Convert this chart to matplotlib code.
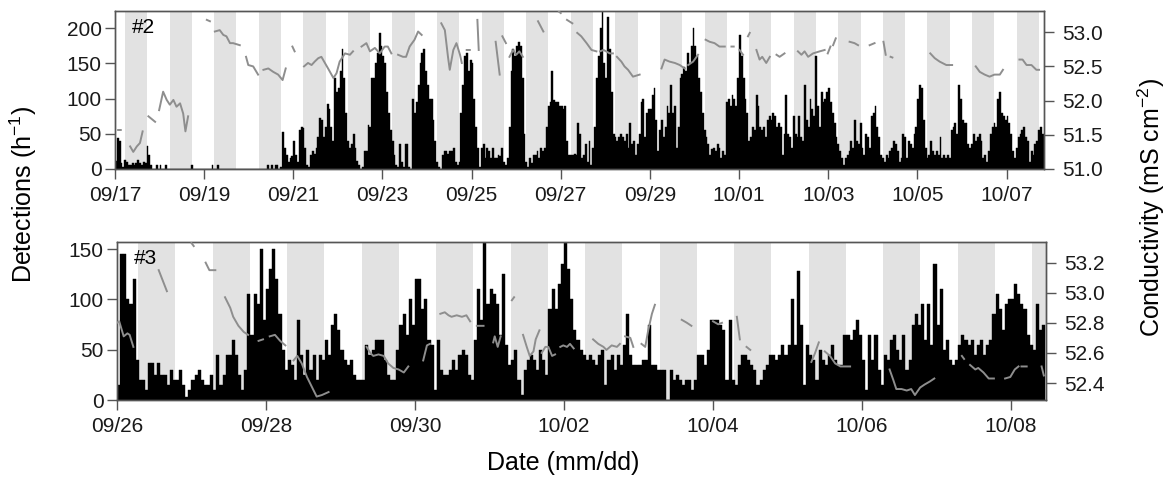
import matplotlib
matplotlib.use('Agg')
import matplotlib.pyplot as plt
import numpy as np

plt.rcParams['font.family'] = ['Liberation Sans', 'DejaVu Sans']
plt.rcParams['mathtext.fontset'] = 'custom'
plt.rcParams['mathtext.rm'] = 'Liberation Sans'
plt.rcParams['mathtext.default'] = 'regular'

nan = np.nan

# hourly detections, site #2, starting 09/17 00:00 (one row per day)
det2 = [
    12, 44, 40, 8, 3, 13, 10, 6, 6, 8, 5, 8, 13, 8, 6, 10, 8, 32, 20, 5, 0, 0, 5, 0,
    6, 0, 0, 6, 0, 0, 0, 0, 0, 0, 0, 0, 0, 0, 0, 0, 0, 5, 0, 0, 0, 0, 0, 0,
    0, 0, 0, 0, 6, 0, 0, 6, 0, 0, 0, 0, 0, 0, 0, 0, 0, 0, 0, 0, 0, 0, 0, 0,
    0, 0, 0, 0, 0, 0, 0, 0, 0, 0, 5, 0, 5, 0, 6, 6, 0, 3, 52, 30, 20, 10, 15, 18,
    40, 20, 10, 55, 60, 58, 30, 5, 3, 20, 25, 22, 30, 45, 72, 70, 45, 60, 92, 85, 60, 40, 130, 110,
    115, 140, 170, 130, 80, 40, 30, 35, 50, 30, 12, 5, 0, 3, 25, 25, 62, 60, 130, 130, 150, 165, 193, 175,
    160, 150, 110, 80, 55, 40, 20, 5, 3, 35, 10, 3, 35, 35, 3, 0, 100, 80, 95, 120, 150, 165, 170, 140,
    120, 100, 100, 70, 40, 10, 3, 0, 20, 25, 25, 22, 25, 25, 30, 10, 5, 10, 80, 120, 160, 165, 140, 155,
    150, 100, 60, 30, 3, 30, 35, 15, 30, 25, 15, 30, 15, 15, 20, 18, 30, 10, 5, 15, 60, 140, 170, 160,
    175, 180, 175, 130, 50, 10, 3, 15, 8, 20, 20, 25, 15, 30, 25, 30, 60, 90, 95, 140, 98, 95, 95, 90,
    90, 85, 90, 40, 20, 20, 20, 22, 20, 65, 50, 15, 20, 35, 10, 40, 5, 30, 60, 130, 160, 200, 225, 150,
    130, 216, 170, 110, 50, 45, 40, 45, 50, 45, 40, 50, 30, 65, 35, 40, 20, 35, 50, 95, 100, 45, 80, 85,
    85, 105, 115, 70, 25, 55, 70, 45, 60, 90, 80, 120, 80, 90, 30, 60, 130, 135, 145, 140, 165, 150, 175, 200,
    175, 160, 130, 110, 80, 55, 45, 35, 20, 28, 30, 25, 35, 30, 15, 25, 20, 95, 100, 90, 105, 100, 90, 130,
    190, 160, 130, 100, 80, 40, 45, 60, 55, 105, 90, 60, 55, 60, 45, 70, 75, 70, 80, 75, 60, 65, 60, 20,
    50, 105, 50, 45, 30, 75, 50, 45, 75, 45, 40, 120, 70, 60, 100, 85, 75, 160, 90, 60, 110, 95, 100, 110,
    115, 95, 80, 65, 45, 35, 25, 15, 5, 15, 20, 25, 40, 30, 70, 40, 35, 65, 30, 20, 50, 45, 30, 75,
    80, 90, 60, 45, 20, 15, 10, 20, 15, 25, 30, 40, 35, 25, 10, 15, 50, 45, 15, 40, 35, 30, 50, 60,
    100, 120, 115, 70, 30, 15, 20, 40, 25, 20, 25, 20, 45, 15, 20, 15, 20, 15, 55, 60, 65, 50, 120, 100,
    70, 65, 65, 35, 30, 35, 50, 40, 45, 50, 40, 15, 20, 10, 25, 50, 60, 65, 60, 100, 110, 80, 75, 70,
    75, 65, 50, 25, 15, 30, 45, 50, 55, 60, 45, 40, 10, 25, 20, 35, 40, 55, 60, 50,
]

# hourly detections, site #3, starting 09/26 00:00
det3 = [
    15, 145, 145, 100, 95, 120, 40, 20, 20, 10, 37, 37, 25, 37, 25, 25, 15, 30, 20, 20, 30, 15, 3, 10,
    20, 25, 30, 20, 15, 15, 25, 10, 45, 15, 25, 45, 45, 60, 45, 25, 10, 30, 105, 65, 105, 95, 150, 80,
    110, 130, 150, 120, 85, 50, 30, 40, 35, 20, 80, 45, 25, 50, 30, 45, 20, 45, 40, 60, 45, 75, 85, 70,
    50, 40, 35, 40, 25, 20, 20, 20, 55, 45, 50, 60, 60, 60, 40, 25, 20, 20, 50, 75, 85, 65, 100, 75,
    120, 120, 90, 100, 60, 55, 10, 60, 30, 25, 25, 30, 40, 30, 45, 50, 45, 25, 20, 60, 110, 80, 157, 95,
    110, 105, 95, 65, 125, 55, 35, 40, 50, 20, 5, 30, 40, 45, 40, 30, 50, 40, 25, 90, 110, 90, 115, 135,
    157, 130, 100, 70, 60, 50, 45, 40, 45, 40, 35, 45, 50, 15, 40, 45, 30, 45, 35, 55, 85, 45, 35, 35,
    35, 40, 40, 75, 35, 35, 30, 30, 30, 0, 30, 20, 25, 20, 15, 20, 20, 10, 20, 45, 45, 35, 50, 80,
    80, 80, 75, 70, 20, 80, 20, 15, 35, 45, 45, 40, 35, 30, 15, 20, 30, 35, 45, 45, 40, 45, 55, 45,
    55, 100, 55, 128, 75, 15, 55, 45, 40, 20, 50, 40, 35, 45, 55, 40, 35, 35, 65, 65, 60, 70, 80, 65,
    40, 10, 65, 40, 65, 30, 15, 45, 40, 60, 65, 50, 40, 65, 30, 40, 75, 85, 75, 95, 60, 95, 55, 135,
    75, 110, 50, 60, 40, 35, 40, 55, 65, 60, 55, 60, 45, 55, 60, 45, 55, 60, 85, 105, 90, 70, 95, 100,
    100, 115, 105, 95, 90, 65, 55, 50, 95, 70, 75,
]

# conductivity, site #2 (days since 09/17, mS cm-2); nan = gap in record
cond2_t = [0.07, 0.13, nan, 0.34, 0.41, 0.49, 0.56, 0.62, nan, 0.75, 0.90, nan,
           0.99, 1.08, 1.16, 1.23, 1.31, 1.38, 1.46, 1.53, 1.58, 1.64, nan,
           2.06, 2.13, nan, 2.24, 2.35, 2.43, 2.50, 2.58, 2.65, 2.80, nan,
           2.94, 2.99, 3.10, 3.21, nan, 3.33, 3.44, 3.55, 3.66, 3.76, 3.83, nan,
           3.98, 4.03, nan,
           4.24, 4.33, 4.41, 4.48, 4.56, 4.63, 4.71, 4.78, 4.90, 4.97, 5.04, 5.16, 5.27, 5.34, nan,
           5.53, 5.64, 5.72, 5.83, 5.94, 6.05, 6.12, 6.20, nan,
           6.35, 6.46, 6.53, 6.61, 6.72, 6.80, 6.88, nan,
           7.32, 7.40, 7.47, 7.51, 7.59, 7.66, 7.74, 7.78, nan, 7.89, 7.96, nan,
           8.13, 8.16, nan, 8.54, 8.63, nan, 8.69, 8.77, nan,
           8.85, 8.93, 9.00, 9.07, 9.15, nan, 9.49, 9.61, nan, 9.96, 10.00, nan,
           10.14, 10.26, nan, 10.37, 10.46, 10.58, 10.69, 10.80, nan,
           10.88, 10.96, 11.10, 11.17, nan, 11.26, 11.36, 11.43, 11.51, 11.62, 11.77, nan,
           12.26, 12.33, 12.44, 12.56, 12.67, 12.78, nan, 12.86, 12.97, 13.08, nan,
           13.25, 13.34, 13.45, 13.56, 13.68, nan, 13.83, 13.88, nan, 14.01, 14.09, nan,
           14.20, 14.24, nan, 14.39, 14.46, 14.52, 14.61, 14.69, nan, 14.84, 14.91, 15.02, nan,
           15.32, 15.40, 15.47, 15.55, 15.66, 15.81, 15.92, nan, 15.99, 16.05, nan,
           16.11, 16.17, nan, 16.48, 16.59, 16.67, nan, 16.93, 17.04, nan,
           17.24, 17.29, nan, 17.40, 17.44, nan,
           18.29, 18.39, 18.50, 18.65, 18.78, nan,
           19.31, 19.40, 19.51, 19.62, 19.73, 19.85, 19.92, nan,
           20.29, 20.36, 20.45, 20.56, 20.67, 20.73]
cond2_v = [51.57, 51.57, nan, 51.33, 51.25, 51.33, 51.38, 51.55, nan, 51.77, 51.69, nan,
           51.86, 52.13, 52.01, 51.94, 52.01, 51.91, 51.96, 51.81, 51.55, 51.77, nan,
           53.18, 53.16, nan, 53.01, 53.03, 52.96, 52.94, 52.84, 52.84, 52.81, nan,
           52.64, 52.52, 52.50, 52.38, nan, 52.45, 52.47, 52.42, 52.38, 52.30, 52.47, nan,
           52.79, 52.72, nan,
           52.50, 52.55, 52.52, 52.57, 52.62, 52.64, 52.55, 52.47, 52.33, 52.40, 52.57, 52.69, 52.67, 52.72, nan,
           52.79, 52.84, 52.72, 52.77, 52.69, 52.79, 52.79, 52.69, nan,
           52.67, 52.64, 52.64, 52.79, 52.89, 53.01, 52.96, nan,
           53.13, 53.03, 52.64, 52.45, 52.74, 52.84, 52.67, 52.55, nan, 52.74, 52.74, nan,
           53.18, 52.74, nan, 52.86, 52.38, nan, 52.94, 52.84, nan,
           52.64, 52.74, 52.67, 52.72, 52.64, nan, 53.16, 53.01, nan, 53.30, 53.28, nan,
           53.18, 53.13, nan, 52.99, 52.94, 52.84, 52.74, 52.72, nan,
           52.72, 52.74, 52.69, 52.69, nan, 52.64, 52.57, 52.50, 52.45, 52.35, 52.38, nan,
           52.47, 52.60, 52.57, 52.55, 52.52, 52.47, nan, 52.52, 52.57, 52.67, nan,
           52.89, 52.86, 52.84, 52.79, 52.79, nan, 52.79, 52.79, nan, 52.74, 52.67, nan,
           52.94, 52.99, nan, 52.74, 52.60, 52.64, 52.55, 52.64, nan, 52.67, 52.64, 52.69, nan,
           52.72, 52.67, 52.72, 52.64, 52.69, 52.72, 52.74, nan, 52.69, 52.79, nan,
           52.81, 52.91, nan, 52.86, 52.84, 52.81, nan, 52.81, 52.84, nan,
           52.86, 52.67, nan, 52.64, 52.63, nan,
           52.69, 52.62, 52.57, 52.52, 52.52, nan,
           52.50, 52.42, 52.38, 52.35, 52.38, 52.38, 52.45, nan,
           52.60, 52.60, 52.52, 52.52, 52.45, 52.45]

# conductivity, site #3 (days since 09/26)
cond3_t = [0.00, 0.03, 0.06, 0.09, 0.14, 0.17, 0.22, nan, 0.56, 0.67, nan, 1.00, 1.03, nan,
           1.19, 1.24, 1.32, nan, 1.45, 1.52, 1.56, 1.63, 1.70, 1.76, nan, 1.90, 1.96, nan,
           2.05, 2.12, 2.19, 2.26, nan, 2.37, 2.42, 2.48, 2.55, 2.61, 2.68, 2.75, 2.84, nan,
           3.35, 3.40, 3.44, 3.51, 3.58, 3.64, 3.71, 3.78, 3.85, 3.91, nan,
           4.11, 4.16, 4.20, nan, 4.34, 4.40, 4.45, 4.49, 4.56, 4.63, 4.69, 4.74, nan,
           4.83, 4.92, nan, 5.05, 5.07, 5.11, 5.15, nan, 5.30, 5.33, nan,
           5.45, 5.50, 5.54, 5.59, 5.62, 5.67, nan, 5.70, 5.75, 5.79, 5.84, 5.88, nan,
           5.95, 5.99, 6.04, 6.08, 6.13, nan, 6.39, 6.46, 6.53, 6.57, 6.64, 6.71, 6.75, nan,
           6.82, 6.89, 6.93, nan, 7.04, 7.09, 7.13, 7.18, 7.22, nan, 7.58, 7.65, 7.71, nan,
           8.00, 8.07, 8.12, nan, 8.32, 8.36, nan, 8.45, 8.50, nan,
           9.32, 9.37, 9.42, nan, 9.50, 9.57, 9.64, 9.71, 9.78, 9.84, nan,
           10.37, 10.42, 10.46, 10.53, 10.60, 10.66, 10.71, 10.78, 10.84, 10.91, 10.97, nan,
           11.34, 11.37, nan, 11.45, 11.52, 11.56, 11.63, 11.70, 11.77, nan,
           11.92, 11.99, 12.05, 12.10, nan, 12.14, 12.21, nan, 12.41, 12.44]
cond3_v = [52.80, 52.81, 52.76, 52.71, 52.73, 52.72, 52.64, nan, 53.15, 53.01, nan, 53.33, 53.31, nan,
           53.20, 53.15, 53.15, nan, 52.97, 52.90, 52.84, 52.78, 52.74, 52.72, nan, 52.68, 52.69, nan,
           52.71, 52.72, 52.68, 52.65, nan, 52.55, 52.58, 52.53, 52.44, 52.38, 52.31, 52.32, 52.34, nan,
           52.64, 52.60, 52.58, 52.59, 52.58, 52.53, 52.50, 52.49, 52.47, 52.51, nan,
           52.55, 52.65, 52.66, nan, 52.86, 52.87, 52.85, 52.84, 52.85, 52.84, 52.85, 52.81, nan,
           52.78, 52.78, nan, 52.67, 52.71, 52.64, 52.71, nan, 52.95, 52.97, nan,
           52.72, 52.64, 52.58, 52.61, 52.69, 52.75, nan, 52.60, 52.64, 52.64, 52.58, 52.59, nan,
           52.64, 52.65, 52.64, 52.66, 52.63, nan, 52.69, 52.66, 52.64, 52.62, 52.65, 52.64, 52.66, nan,
           52.71, 52.70, 52.64, nan, 52.66, 52.64, 52.75, 52.86, 52.92, nan, 52.82, 52.80, 52.78, nan,
           52.81, 52.79, 52.80, nan, 52.84, 52.69, nan, 52.64, 52.62, nan,
           52.54, 52.60, 52.67, nan, 52.61, 52.58, 52.53, 52.51, 52.51, 52.51, nan,
           52.49, 52.42, 52.36, 52.36, 52.35, 52.36, 52.32, 52.37, 52.39, 52.41, 52.43, nan,
           52.58, 52.56, nan, 52.52, 52.49, 52.50, 52.47, 52.43, 52.43, nan,
           52.43, 52.44, 52.49, 52.51, nan, 52.51, 52.51, nan, 52.51, 52.45]

ticks2 = ['09/17', '09/19', '09/21', '09/23', '09/25', '09/27', '09/29',
          '10/01', '10/03', '10/05', '10/07']
ticks3 = ['09/26', '09/28', '09/30', '10/02', '10/04', '10/06', '10/08']

# shaded part of each day (hours)
shade2 = (5.4, 17.4)
shade3 = (6.9, 18.8)

fig = plt.figure(figsize=(11.71, 4.82), dpi=100)
frame = '#555555'


def panel(rect, det, ct, cv, shade, ticks, xmax, ylim, yticks, clim, cticks, tag):
    ax = fig.add_axes(rect)
    ndays = int(np.ceil(xmax))
    for d in range(ndays):
        ax.axvspan(d + shade[0] / 24, d + shade[1] / 24, color='#e2e2e2', lw=0, zorder=0)
    t = np.arange(len(det)) / 24.0
    ax.bar(t, det, width=1 / 24, align='edge', color='black', edgecolor='black',
           linewidth=0.3, zorder=2)
    ax.set_xlim(0, xmax)
    ax.set_ylim(*ylim)
    ax.set_yticks(yticks)
    ax.set_xticks(np.arange(len(ticks)) * 2)
    ax.set_xticklabels(ticks)
    ax.text(0.018, 0.86, tag, transform=ax.transAxes, fontsize=15, zorder=5)

    ax2 = ax.twinx()
    ax2.plot(ct, cv, color='#8e8e8e', lw=1.4, zorder=3)
    ax2.set_ylim(*clim)
    ax2.set_yticks(cticks)
    ax2.set_yticklabels(['%.1f' % c for c in cticks])

    for a in (ax, ax2):
        for s in a.spines.values():
            s.set_color(frame)
            s.set_linewidth(1.0)
        a.tick_params(direction='out', length=7, width=1, color=frame,
                      labelsize=15, labelcolor='#1a1a1a')
    ax.tick_params(axis='x', pad=5)
    ax.tick_params(axis='y', pad=2.5)
    ax2.tick_params(axis='y', pad=6)
    return ax, ax2


panel([0.0982, 0.6494, 0.7933, 0.3278], det2, cond2_t, cond2_v, shade2, ticks2,
      20.84, (0, 224.6), [0, 50, 100, 150, 200], (51.0, 53.31),
      [51.0, 51.5, 52.0, 52.5, 53.0], '#2')
panel([0.0999, 0.1701, 0.7934, 0.3278], det3, cond3_t, cond3_v, shade3, ticks3,
      12.47, (0, 157), [0, 50, 100, 150], (52.287, 53.337),
      [52.4, 52.6, 52.8, 53.0, 53.2], '#3')

fig.text(0.0195, 0.5975, r'Detections (h$^{-1}$)', rotation=90, ha='center', va='center',
         fontsize=18)
fig.text(0.983, 0.5695, r'Conductivity (mS cm$^{-2}$)', rotation=90, ha='center',
         va='center', fontsize=18)
fig.text(0.481, 0.039, 'Date (mm/dd)', ha='center', va='center', fontsize=18)

fig.savefig('out.png', dpi=100, facecolor='white')
